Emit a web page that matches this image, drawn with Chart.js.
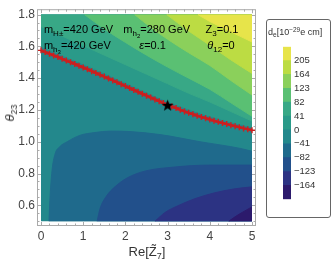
<!DOCTYPE html>
<html>
<head>
<meta charset="utf-8">
<script src="https://cdn.jsdelivr.net/npm/chart.js@4.4.1/dist/chart.umd.min.js"></script>
<style>
  html, body { margin: 0; padding: 0; background: #fff; }
  #wrap { position: relative; width: 332px; height: 265px; overflow: hidden;
          font-family: "Liberation Sans", Arial, sans-serif; color: #333; }
  #main { position: absolute; left: 0; top: 0; }
  #xlab { position: absolute; left: 147px; top: 245px; font-size: 13px; line-height: 13px;
          transform: translateX(-50%); white-space: nowrap; }
  #ylab { position: absolute; left: 12px; top: 113px; font-size: 13px; line-height: 13px;
          transform: translate(-50%, -50%) rotate(-90deg); white-space: nowrap; }
  #xlab sub, #ylab sub { font-size: 9px; vertical-align: -3px; }
  #legbox { position: absolute; left: 266px; top: 19px; width: 65px; height: 199px;
            border: 1px solid #666; border-radius: 3px; box-sizing: border-box; }
  #legtitle { position: absolute; left: 268px; top: 25px; font-size: 9px; line-height: 9px; white-space: nowrap; }
  #legtitle sub { font-size: 6.5px; vertical-align: -2px; }
  #legtitle sup { font-size: 6.5px; vertical-align: 3px; }
  #cbar { position: absolute; left: 280px; top: 38px; }
</style>
</head>
<body>
<div id="wrap">
  <canvas id="main" width="332" height="265"></canvas>
  <div id="xlab">Re[Z&#771;<sub>7</sub>]</div>
  <div id="ylab"><i>θ</i><sub>23</sub></div>
  <div id="legbox"></div>
  <div id="legtitle">d<sub>e</sub>[10<sup>−29</sup>e cm]</div>
  <canvas id="cbar" width="50" height="170"></canvas>
</div>
<script>
//================================ DADES

const xTicks = [0, 1, 2, 3, 4, 5];
const yTicks = [0.6, 0.8, 1.0, 1.2, 1.4, 1.6, 1.8];
const cbLevels = [-164, -123, -82, -41, 0, 41, 82, 123, 164, 205];
const bandColors = ['#2c1a6c', '#2c3383', '#22508b', '#1f6a8c', '#23888c', '#2a9a89',
                    '#38a886', '#5ac073', '#8bd05b', '#bcdc43', '#e7e44a'];

// contour boundaries, upper side (region above -> higher band)
const up4X = [0, 0.5, 1, 1.5, 2, 2.5, 3, 3.5, 4, 4.5, 5];
const up4Y = [1.60, 1.545, 1.49, 1.432, 1.372, 1.312, 1.255, 1.205, 1.162, 1.125, 1.093];
const up5X = [0, 0.5, 1, 1.5, 2, 2.5, 3, 3.5, 4, 4.5, 5];
const up5Y = [1.725, 1.665, 1.605, 1.545, 1.485, 1.425, 1.365, 1.305, 1.25, 1.19, 1.13];
const up6X = [1.03, 1.5, 2, 2.5, 3, 3.5, 4, 4.5, 5];
const up6Y = [1.8, 1.71, 1.625, 1.545, 1.47, 1.4, 1.33, 1.245, 1.16];
const up7X = [2.22, 2.6, 3, 3.5, 4, 4.5, 5];
const up7Y = [1.8, 1.72, 1.645, 1.56, 1.48, 1.385, 1.294];
const up8X = [2.98, 3.5, 4, 4.5, 5];
const up8Y = [1.8, 1.697, 1.607, 1.515, 1.43];
const up9X = [3.72, 4, 4.5, 5];
const up9Y = [1.8, 1.757, 1.692, 1.628];

// contour boundaries, lower side (region below -> lower band)
const lo3X = [0.19, 0.21, 0.26, 0.33, 0.45, 0.62, 0.92, 1.28, 1.64, 2.11, 2.82, 3.77, 4.72, 5];
const lo3Y = [0.5, 0.63, 0.815, 0.92, 0.97, 1.0, 1.04, 1.058, 1.067, 1.064, 1.045, 1.0, 0.958, 0.94];
const lo2X = [1.33, 1.40, 1.54, 1.75, 2.04, 2.46, 3.13, 4.0, 5];
const lo2Y = [0.5, 0.58, 0.654, 0.716, 0.772, 0.815, 0.84, 0.853, 0.853];
const lo1X = [2.70, 2.94, 3.25, 3.65, 4.12, 4.60, 5];
const lo1Y = [0.5, 0.555, 0.598, 0.642, 0.679, 0.704, 0.716];
const lo0X = [4.45, 4.67, 5];
const lo0Y = [0.5, 0.54, 0.59];

// red curve
const redX = [0, 0.1, 0.2, 0.3, 0.4, 0.5, 0.6, 0.7, 0.8, 0.9, 1, 1.1, 1.2, 1.3, 1.4, 1.5, 1.6, 1.7, 1.8, 1.9,
              2, 2.1, 2.2, 2.3, 2.4, 2.5, 2.6, 2.7, 2.8, 2.9, 3, 3.1, 3.2, 3.3, 3.4, 3.5, 3.6, 3.7, 3.8, 3.9,
              4, 4.1, 4.2, 4.3, 4.4, 4.5, 4.6, 4.7, 4.8, 4.9, 5];
const redY = [1.575, 1.564, 1.554, 1.543, 1.533, 1.522, 1.511, 1.500, 1.489, 1.478,
              1.467, 1.456, 1.444, 1.433, 1.421, 1.410, 1.398, 1.386, 1.374, 1.362,
              1.350, 1.338, 1.326, 1.314, 1.302, 1.290, 1.278, 1.266, 1.255, 1.243,
              1.232, 1.222, 1.212, 1.201, 1.191, 1.182, 1.173, 1.164, 1.156, 1.148,
              1.140, 1.132, 1.125, 1.118, 1.111, 1.104, 1.097, 1.091, 1.084, 1.078, 1.072];

const starX = [3];
const starY = [1.23];

const notes = [
  { v: 0.07, th: 1.685, parts: [['m', ''], ['H±', 'sub'], ['=420 GeV', '']] },
  { v: 1.95, th: 1.685, parts: [['m', ''], ['h', 'sub'], ['2', 'sub2'], ['=280 GeV', '']] },
  { v: 3.90, th: 1.685, parts: [['Z', ''], ['3', 'sub'], ['=0.1', '']] },
  { v: 0.07, th: 1.586, parts: [['m', ''], ['h', 'sub'], ['3', 'sub2'], ['=420 GeV', '']] },
  { v: 2.33, th: 1.586, parts: [['ε', 'it'], ['=0.1', '']] },
  { v: 3.94, th: 1.586, parts: [['θ', 'it'], ['12', 'sub'], ['=0', '']] }
];

//================================ FUNCIONS

function pts (xs, ys) {
  const out = [];
  for (let i = 0; i < xs.length; i++) {
    out.push({ x: xs[i], y: ys[i] });
  }
  return out;
}

function makeStar () {
  const c = document.createElement('canvas');
  c.width = 13; c.height = 13;
  const g = c.getContext('2d');
  g.fillStyle = '#000';
  g.beginPath();
  for (let i = 0; i < 10; i++) {
    const r = (i % 2 === 0) ? 6.3 : 2.6;
    const a = -Math.PI / 2 + i * Math.PI / 5;
    const px = 6.5 + r * Math.cos(a);
    const py = 7 + r * Math.sin(a);
    if (i === 0) g.moveTo(px, py); else g.lineTo(px, py);
  }
  g.closePath();
  g.fill();
  return c;
}

function drawRich (ctx, x, y, parts) {
  let cx = x;
  for (let i = 0; i < parts.length; i++) {
    let size = 11;
    let dy = 0;
    let style = '';
    if (parts[i][1] === 'sub') { size = 8; dy = 3; }
    if (parts[i][1] === 'sub2') { size = 6; dy = 5; }
    if (parts[i][1] === 'it') { style = 'italic '; }
    ctx.font = style + size + 'px "Liberation Sans", Arial, sans-serif';
    ctx.fillText(parts[i][0], cx, y + dy);
    cx += ctx.measureText(parts[i][0]).width;
  }
}

const framePlugin = {
  id: 'frame',
  afterDatasetsDraw (chart) {
    const ctx = chart.ctx;
    const xs = chart.scales.x;
    const ys = chart.scales.y;
    ctx.save();
    ctx.fillStyle = '#000';
    ctx.textBaseline = 'alphabetic';
    for (let i = 0; i < notes.length; i++) {
      drawRich(ctx, xs.getPixelForValue(notes[i].v), ys.getPixelForValue(notes[i].th), notes[i].parts);
    }
    ctx.restore();
  },
  afterDraw (chart) {
    const ctx = chart.ctx;
    const a = chart.chartArea;
    const xs = chart.scales.x;
    const ys = chart.scales.y;
    ctx.save();
    ctx.strokeStyle = '#aaaaaa';
    ctx.lineWidth = 1;
    ctx.strokeRect(a.left + 0.5, a.top + 0.5, a.right - a.left - 1, a.bottom - a.top - 1);
    ctx.beginPath();
    for (let i = 0; i <= 25; i++) {
      const px = Math.round(xs.getPixelForValue(i * 0.2)) + 0.5;
      const len = (i % 5 === 0) ? 4 : 2.5;
      ctx.moveTo(px, a.bottom); ctx.lineTo(px, a.bottom - len);
      ctx.moveTo(px, a.top); ctx.lineTo(px, a.top + len);
    }
    for (let i = 0; i <= 26; i++) {
      const v = 0.5 + i * 0.05;
      const py = Math.round(ys.getPixelForValue(v)) + 0.5;
      const major = Math.abs(v * 5 - Math.round(v * 5)) < 1e-6;
      const len = major ? 4 : 2.5;
      ctx.moveTo(a.left, py); ctx.lineTo(a.left + len, py);
      ctx.moveTo(a.right, py); ctx.lineTo(a.right - len, py);
    }
    ctx.stroke();
    ctx.restore();
  }
};

//================================ GRÀFIC PRINCIPAL

const datasets = [];
datasets.push({
  data: pts([0, 5], [1.8, 1.8]), fill: { value: 0.5 }, backgroundColor: bandColors[4],
  borderWidth: 0, pointRadius: 0, order: 30
});
const upX = [up4X, up5X, up6X, up7X, up8X, up9X];
const upY = [up4Y, up5Y, up6Y, up7Y, up8Y, up9Y];
for (let k = 0; k < upX.length; k++) {
  datasets.push({
    data: pts(upX[k], upY[k]), fill: { value: 1.8 }, backgroundColor: bandColors[5 + k],
    borderColor: bandColors[5 + k], borderWidth: 1, pointRadius: 0,
    cubicInterpolationMode: 'monotone', order: 25 - k
  });
}
const loX = [lo3X, lo2X, lo1X, lo0X];
const loY = [lo3Y, lo2Y, lo1Y, lo0Y];
for (let k = 0; k < loX.length; k++) {
  datasets.push({
    data: pts(loX[k], loY[k]), fill: { value: 0.5 }, backgroundColor: bandColors[3 - k],
    borderColor: bandColors[3 - k], borderWidth: 1, pointRadius: 0,
    cubicInterpolationMode: 'monotone', order: 15 - k
  });
}
datasets.push({
  data: pts(redX, redY), fill: false, borderColor: '#cc1f1f', borderWidth: 2.5,
  pointStyle: 'cross', pointRadius: 3, pointBorderWidth: 1.4, pointBorderColor: '#cc1f1f',
  order: 2
});
datasets.push({
  data: pts(starX, starY), showLine: false, pointStyle: makeStar(), pointRadius: 6, order: 1
});

const tickFont = { family: '"Liberation Sans", Arial, sans-serif', size: 12 };

new Chart(document.getElementById('main'), {
  type: 'line',
  data: { datasets },
  options: {
    responsive: false,
    animation: false,
    devicePixelRatio: 1,
    layout: { padding: { left: 0, top: 6, right: 76, bottom: 0 } },
    plugins: { legend: { display: false }, tooltip: { enabled: false } },
    scales: {
      x: {
        type: 'linear', min: -0.0948, max: 5.0948,
        afterBuildTicks: (s) => { s.ticks = xTicks.map((v) => ({ value: v })); },
        afterFit: (s) => { s.height = 39; },
        grid: { display: false, drawTicks: false },
        border: { display: false },
        ticks: { font: tickFont, color: '#444', padding: 3, autoSkip: false, maxRotation: 0 }
      },
      y: {
        type: 'linear', min: 0.4698, max: 1.834,
        afterBuildTicks: (s) => { s.ticks = yTicks.map((v) => ({ value: v })); },
        afterFit: (s) => { s.width = 37; },
        grid: { display: false, drawTicks: false },
        border: { display: false },
        ticks: { font: tickFont, color: '#444', padding: 2, autoSkip: false,
                 callback: (v) => Number(v).toFixed(1) }
      }
    }
  },
  plugins: [framePlugin]
});

//================================ BARRA DE COLORS

const cbSets = [];
for (let i = 0; i < bandColors.length; i++) {
  const lo = (i === 0) ? cbLevels[0] - 41 : cbLevels[i - 1];
  const hi = (i === bandColors.length - 1) ? cbLevels[cbLevels.length - 1] + 41 : cbLevels[i];
  cbSets.push({
    data: [[lo, hi]], backgroundColor: bandColors[i], borderWidth: 0,
    grouped: false, barPercentage: 1, categoryPercentage: 1
  });
}

new Chart(document.getElementById('cbar'), {
  type: 'bar',
  data: { labels: ['d'], datasets: cbSets },
  options: {
    responsive: false,
    animation: false,
    devicePixelRatio: 1,
    layout: { padding: { left: 3, top: 3.7, right: 0, bottom: 4 } },
    plugins: { legend: { display: false }, tooltip: { enabled: false } },
    scales: {
      x: { display: false },
      y: {
        position: 'right', min: -205, max: 246,
        afterBuildTicks: (s) => { s.ticks = cbLevels.map((v) => ({ value: v })); },
        afterFit: (s) => { s.width = 39; },
        grid: { display: false, drawTicks: false },
        border: { display: false },
        ticks: {
          font: { family: '"Liberation Sans", Arial, sans-serif', size: 9.5 }, color: '#333',
          padding: 3, autoSkip: false,
          callback: (v) => (v < 0 ? '−' + Math.abs(v) : String(v))
        }
      }
    }
  }
});
</script>
</body>
</html>
